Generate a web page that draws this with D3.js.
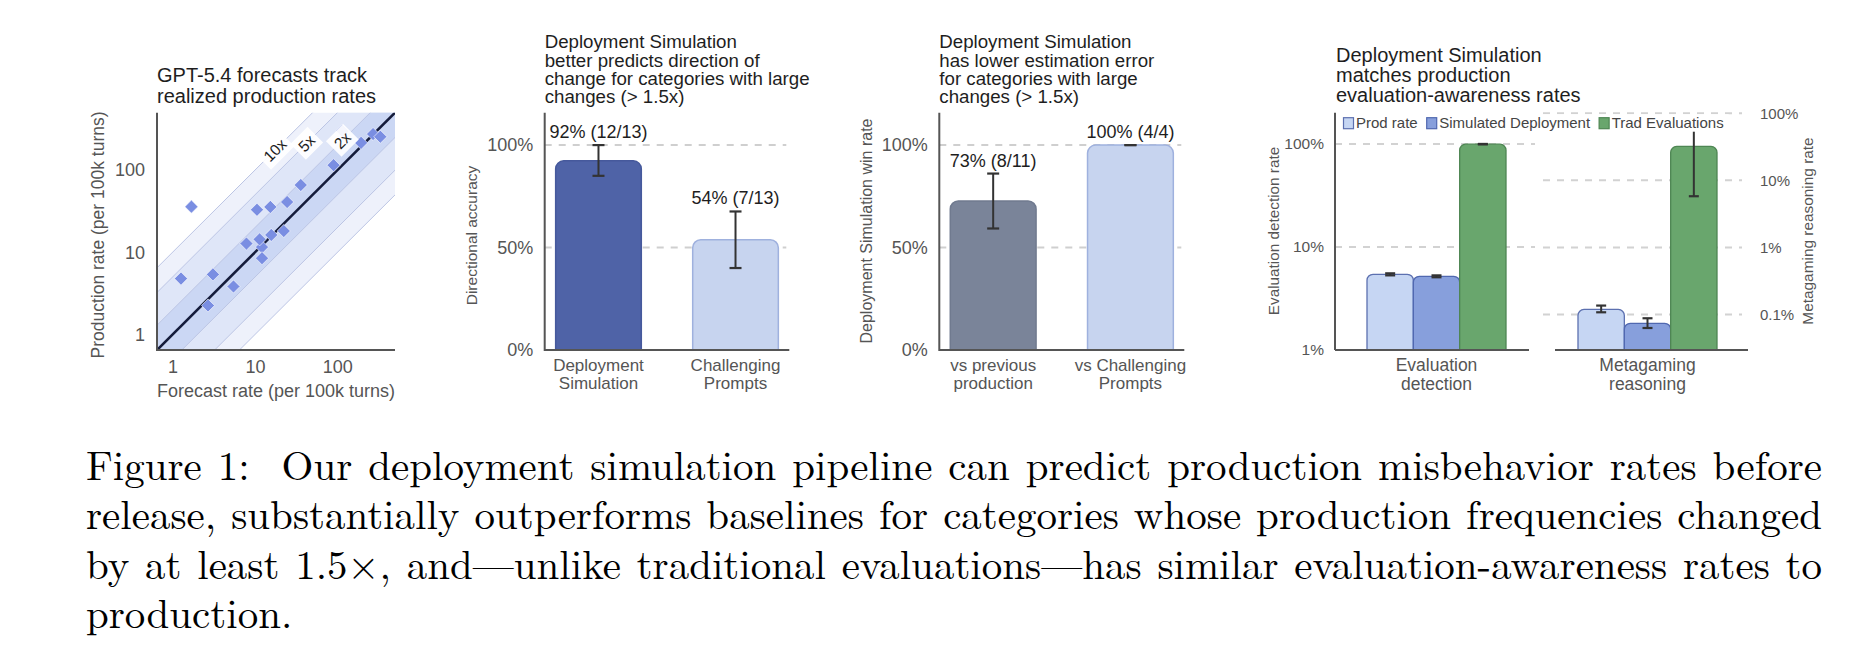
<!DOCTYPE html>
<html>
<head>
<meta charset="utf-8">
<script src="https://cdn.jsdelivr.net/npm/d3@7"></script>
<style>
  body { margin: 0; background: #fff; }
  svg { display: block; font-family: "Liberation Sans", Arial, Helvetica, sans-serif; }
</style>
</head>
<body>
<script>
// ---- values ----

// panel 1: forecast vs realized production rate (per 100k turns)
var forecastRate   = [1.7, 1.27, 3.1, 2.7, 5.5, 7.9, 10.6, 12.2, 11.4, 12.2, 15.4, 15.8, 22.4, 24.6, 36, 90, 115, 194, 271, 332];
var productionRate = [36, 4.8, 5.4, 2.26, 3.85, 12.8, 33, 11.6, 14.4, 8.5, 35.7, 16.3, 18.2, 41, 66, 115, 300, 215, 275, 255];
var scatterTicks = [1, 10, 100];
var bandFactors = [10, 5, 2];
var bandNames = ["10x", "5x", "2x"];
var bandLabelAt = [17.5, 42.5, 115]; // forecast value where the band label sits

// panel 2: directional accuracy
var dirCats = [["Deployment", "Simulation"], ["Challenging", "Prompts"]];
var dirValues = [92.3, 53.8];
var dirLo = [85, 40];
var dirHi = [100, 67.6];
var dirLabels = ["92% (12/13)", "54% (7/13)"];

// panel 3: win rate
var winCats = [["vs previous", "production"], ["vs Challenging", "Prompts"]];
var winValues = [72.7, 100];
var winLo = [59.3, 100];
var winHi = [86.1, 100];
var winLabels = ["73% (8/11)", "100% (4/4)"];

var pctTicks = [0, 50, 100];

// panel 4: evaluation awareness (percent)
var awareSeries = ["Prod rate", "Simulated Deployment", "Trad Evaluations"];
var awareGroups = [["Evaluation", "detection"], ["Metagaming", "reasoning"]];
var evalDetect = [5.43, 5.19, 99.5];
var evalLo = [5.3, 5.08, 99];
var evalHi = [5.55, 5.3, 100];
var metaReason = [0.119, 0.074, 32];
var metaLo = [0.108, 0.063, 5.8];
var metaHi = [0.136, 0.088, 80];
var leftTicks = [1, 10, 100];
var rightTicks = [0.1, 1, 10, 100];

var caption = [
  "Figure 1:  Our deployment simulation pipeline can predict production misbehavior rates before",
  "release, substantially outperforms baselines for categories whose production frequencies changed",
  "by at least 1.5\u00d7, and\u2014unlike traditional evaluations\u2014has similar evaluation-awareness rates to",
  "production."
];

// ---- drawing ----
var W = 1874, H = 666;
var TOP = 112.7, BOTTOM = 350;
var AXIS = "#555", TICK = "#555", INK = "#1e1e1e";

var svg = d3.select("body").append("svg").attr("width", W).attr("height", H);

function title(x, baselines, lines, size) {
  svg.append("text").attr("x", x).attr("font-size", size).attr("fill", INK)
    .selectAll("tspan").data(lines).join("tspan")
    .attr("x", x).attr("y", function (d, i) { return baselines[i]; })
    .text(function (d) { return d; });
}

function yLabel(x, y, txt, size) {
  svg.append("text")
    .attr("transform", "translate(" + x + "," + y + ") rotate(-90)")
    .attr("text-anchor", "middle").attr("dy", "0.35em")
    .attr("font-size", size).attr("fill", TICK).text(txt);
}

function twoLine(x, lines, size, b1, b2) {
  svg.append("text").attr("text-anchor", "middle").attr("font-size", size).attr("fill", TICK)
    .selectAll("tspan").data(lines).join("tspan")
    .attr("x", x).attr("y", function (d, i) { return i ? b2 : b1; })
    .text(function (d) { return d; });
}

function topRounded(x, y, w, h, r) {
  r = Math.max(0, Math.min(r, h, w / 2));
  return "M" + x + "," + (y + h) + "V" + (y + r) +
    "A" + r + "," + r + " 0 0 1 " + (x + r) + "," + y +
    "H" + (x + w - r) +
    "A" + r + "," + r + " 0 0 1 " + (x + w) + "," + (y + r) +
    "V" + (y + h) + "Z";
}

function styleAxis(g, size) {
  g.attr("font-family", null).attr("font-size", null);
  g.select(".domain").remove();
  g.selectAll("text").attr("font-size", size).attr("fill", TICK);
}

function errorBars(g, xs, lo, hi, y, half) {
  xs.forEach(function (cx, i) {
    g.append("line").attr("x1", cx).attr("x2", cx).attr("y1", y(lo[i])).attr("y2", y(hi[i]))
      .attr("stroke", "#333").attr("stroke-width", 2);
    [lo[i], hi[i]].forEach(function (v) {
      g.append("line").attr("x1", cx - half).attr("x2", cx + half).attr("y1", y(v)).attr("y2", y(v))
        .attr("stroke", "#333").attr("stroke-width", 2.2);
    });
  });
}

// ===== panel 1: scatter =====
(function () {
  var left = 157, right = 395;
  var x = d3.scaleLog().domain([0.65, 500]).range([left, right]);
  var y = d3.scaleLog().domain([0.65, 500]).range([BOTTOM, TOP]);
  var g = svg.append("g");

  g.append("clipPath").attr("id", "clip1").append("rect")
    .attr("x", left).attr("y", TOP).attr("width", right - left).attr("height", BOTTOM - TOP);
  var plot = g.append("g").attr("clip-path", "url(#clip1)");

  var line = d3.line().x(function (d) { return x(d[0]); }).y(function (d) { return y(d[1]); });
  var lo = 0.01, hi = 1e5;
  var bandFill = ["#eef1fb", "#dfe6f8", "#cbd7f4"];

  plot.selectAll(".band").data(bandFactors).join("path")
    .attr("d", function (k) { return line([[lo, lo * k], [hi, hi * k], [hi, hi / k], [lo, lo / k]]) + "Z"; })
    .attr("fill", function (k, i) { return bandFill[i]; });

  bandFactors.forEach(function (k) {
    [k, 1 / k].forEach(function (f) {
      plot.append("path").attr("d", line([[lo, lo * f], [hi, hi * f]]))
        .attr("fill", "none").attr("stroke", "#bcc5e4").attr("stroke-width", 1);
    });
  });

  plot.append("path").attr("d", line([[lo, lo], [hi, hi]]))
    .attr("fill", "none").attr("stroke", "#151c3b").attr("stroke-width", 2.6);

  var pts = forecastRate.map(function (f, i) { return [f, productionRate[i]]; });
  plot.selectAll(".pt").data(pts).join("path")
    .attr("d", d3.symbol().type(d3.symbolSquare).size(86))
    .attr("transform", function (d) { return "translate(" + x(d[0]) + "," + y(d[1]) + ") rotate(45)"; })
    .attr("fill", "#7a8ee2").attr("stroke", "#fff").attr("stroke-width", 0.8).attr("stroke-opacity", 0.7);

  // band labels sit on white boxes along the upper band edges
  bandFactors.forEach(function (k, i) {
    var v = bandLabelAt[i];
    var lg = plot.append("g")
      .attr("transform", "translate(" + x(v) + "," + y(v * k) + ") rotate(-45)");
    var t = lg.append("text").attr("text-anchor", "middle").attr("dy", "0.35em")
      .attr("font-size", 15.5).attr("fill", INK).text(bandNames[i]);
    var w = t.node().getComputedTextLength() + 8;
    lg.insert("rect", "text").attr("x", -w / 2).attr("y", -11).attr("width", w).attr("height", 22)
      .attr("fill", "#fff").attr("fill-opacity", 0.92);
  });

  var ya = g.append("g").attr("transform", "translate(" + left + ",0)")
    .call(d3.axisLeft(y).tickValues(scatterTicks).tickFormat(d3.format("d")).tickSize(0).tickPadding(12));
  styleAxis(ya, 18);
  var xa = g.append("g").attr("transform", "translate(0," + BOTTOM + ")")
    .call(d3.axisBottom(x).tickValues(scatterTicks).tickFormat(d3.format("d")).tickSize(0).tickPadding(10));
  styleAxis(xa, 18);

  g.append("path").attr("d", "M" + left + "," + TOP + "V" + BOTTOM + "H" + right)
    .attr("fill", "none").attr("stroke", AXIS).attr("stroke-width", 2);

  title(left, [81.7, 102.7], ["GPT-5.4 forecasts track", "realized production rates"], 20);
  yLabel(98, 235, "Production rate (per 100k turns)", 17.5);
  svg.append("text").attr("x", 276).attr("y", 396.5).attr("text-anchor", "middle")
    .attr("font-size", 18).attr("fill", TICK).text("Forecast rate (per 100k turns)");
})();

// ===== panels 2 and 3: bars with error bars =====
function barPanel(cfg) {
  var g = svg.append("g");
  var y = d3.scaleLinear().domain([0, 115.8]).range([BOTTOM, TOP]);
  var x = d3.scaleBand().domain(d3.range(cfg.values.length))
    .range([cfg.left, cfg.right]).paddingInner(0.375).paddingOuter(0.08);

  g.selectAll(".grid").data([50, 100]).join("line")
    .attr("x1", cfg.left).attr("x2", cfg.right - 3)
    .attr("y1", function (d) { return y(d); }).attr("y2", function (d) { return y(d); })
    .attr("stroke", "#cfcfcf").attr("stroke-width", 2).attr("stroke-dasharray", "7,7");

  g.selectAll(".bar").data(cfg.values).join("path")
    .attr("d", function (d, i) { return topRounded(x(i), y(d), x.bandwidth(), y(0) - y(d), 8); })
    .attr("fill", function (d, i) { return cfg.fills[i]; })
    .attr("stroke", function (d, i) { return cfg.strokes[i]; }).attr("stroke-width", 1.5);

  var cx = cfg.values.map(function (d, i) { return x(i) + x.bandwidth() / 2; });
  errorBars(g, cx, cfg.lo, cfg.hi, y, 6);

  g.selectAll(".val").data(cfg.labels).join("text")
    .attr("x", function (d, i) { return cx[i]; })
    .attr("y", function (d, i) { return y(cfg.hi[i]) - 7; })
    .attr("text-anchor", "middle").attr("font-size", 18).attr("fill", INK)
    .text(function (d) { return d; });

  var ya = g.append("g").attr("transform", "translate(" + cfg.left + ",0)")
    .call(d3.axisLeft(y).tickValues(pctTicks).tickFormat(function (d) { return d + "%"; }).tickSize(0).tickPadding(11.5));
  styleAxis(ya, 18);

  g.append("path").attr("d", "M" + cfg.left + "," + TOP + "V" + BOTTOM + "H" + cfg.right)
    .attr("fill", "none").attr("stroke", AXIS).attr("stroke-width", 2);

  cfg.cats.forEach(function (c, i) { twoLine(cx[i], c, 17, 370.7, 388.5); });
  title(cfg.left, [48.3, 66.7, 85, 102.7], cfg.title, 18.7);
  yLabel(cfg.labelX, cfg.labelY, cfg.ylabel, cfg.labelSize);
}

barPanel({
  left: 544.7, right: 789.3,
  values: dirValues, lo: dirLo, hi: dirHi, labels: dirLabels, cats: dirCats,
  fills: ["#4f63a7", "#c7d4ef"], strokes: ["#46599c", "#9fb1de"],
  title: ["Deployment Simulation", "better predicts direction of", "change for categories with large", "changes (> 1.5x)"],
  ylabel: "Directional accuracy", labelX: 471.7, labelY: 235.5, labelSize: 15.5
});

barPanel({
  left: 939.3, right: 1184.3,
  values: winValues, lo: winLo, hi: winHi, labels: winLabels, cats: winCats,
  fills: ["#7a8499", "#c7d4ef"], strokes: ["#707a8f", "#9fb1de"],
  title: ["Deployment Simulation", "has lower estimation error", "for categories with large", "changes (> 1.5x)"],
  ylabel: "Deployment Simulation win rate", labelX: 866.7, labelY: 231, labelSize: 16
});

// ===== panel 4: evaluation awareness, two log axes =====
(function () {
  var g = svg.append("g");
  var fills = ["#c6d6f3", "#879fdc", "#69a66d"];
  var strokes = ["#5c70b0", "#5068b0", "#4e8653"];

  var yl = d3.scaleLog().domain([1, 201]).range([BOTTOM, TOP]);
  var yr = d3.scaleLog().domain([0.0296, 102]).range([BOTTOM, TOP]);

  var subs = [
    { axis: [1335, 1529], group: [1367, 1506], grid: [1335, 1535], y: yl, ticks: [10, 100],
      values: evalDetect, lo: evalLo, hi: evalHi, cat: awareGroups[0] },
    { axis: [1555, 1748], group: [1578, 1717], grid: [1543, 1742], y: yr, ticks: rightTicks,
      values: metaReason, lo: metaLo, hi: metaHi, cat: awareGroups[1] }
  ];

  subs.forEach(function (s) {
    var x = d3.scaleBand().domain(awareSeries).range(s.group).padding(0);
    g.append("g").selectAll("line").data(s.ticks).join("line")
      .attr("x1", s.grid[0]).attr("x2", s.grid[1])
      .attr("y1", function (d) { return s.y(d); }).attr("y2", function (d) { return s.y(d); })
      .attr("stroke", "#d2d2d2").attr("stroke-width", 2).attr("stroke-dasharray", "7,7");

    g.append("g").selectAll("path").data(s.values).join("path")
      .attr("d", function (d, i) {
        return topRounded(x(awareSeries[i]), s.y(d), x.bandwidth(), BOTTOM - s.y(d), 6);
      })
      .attr("fill", function (d, i) { return fills[i]; })
      .attr("stroke", function (d, i) { return strokes[i]; }).attr("stroke-width", 1.3);

    var cx = awareSeries.map(function (n) { return x(n) + x.bandwidth() / 2; });
    errorBars(g, cx, s.lo, s.hi, s.y, 5);

    g.append("line").attr("x1", s.axis[0]).attr("x2", s.axis[1]).attr("y1", BOTTOM).attr("y2", BOTTOM)
      .attr("stroke", AXIS).attr("stroke-width", 2);
    twoLine((s.group[0] + s.group[1]) / 2, s.cat, 17.5, 370.7, 390);
  });

  var fmt = function (d) { return d + "%"; };
  var la = g.append("g").attr("transform", "translate(1335,0)")
    .call(d3.axisLeft(yl).tickValues(leftTicks).tickFormat(fmt).tickSize(0).tickPadding(11));
  styleAxis(la, 15.5);
  var ra = g.append("g").attr("transform", "translate(1748,0)")
    .call(d3.axisRight(yr).tickValues(rightTicks).tickFormat(fmt).tickSize(0).tickPadding(12));
  styleAxis(ra, 15);

  g.append("line").attr("x1", 1335).attr("x2", 1335).attr("y1", TOP).attr("y2", BOTTOM)
    .attr("stroke", AXIS).attr("stroke-width", 2);

  // legend on a white box (it hides the top of the long error bar)
  var leg = g.append("g");
  var box = leg.append("rect").attr("y", 114.2).attr("height", 17.5).attr("fill", "#fff");
  var lx = 1343.5;
  awareSeries.forEach(function (n, i) {
    leg.append("rect").attr("x", lx).attr("y", 117.7).attr("width", 10).attr("height", 11)
      .attr("fill", fills[i]).attr("stroke", strokes[i]).attr("stroke-width", 1.2);
    var t = leg.append("text").attr("x", lx + 12.5).attr("y", 127.8)
      .attr("font-size", 15).attr("fill", "#444").text(n);
    lx += 12.5 + t.node().getComputedTextLength() + 9;
  });
  box.attr("x", 1340).attr("width", lx - 1340 - 4);

  title(1336, [61.7, 81.7, 101.7], ["Deployment Simulation", "matches production", "evaluation-awareness rates"], 20);
  yLabel(1274, 231, "Evaluation detection rate", 15.3);
  yLabel(1808, 231, "Metagaming reasoning rate", 15.4);
})();

// ===== caption, justified (one text, one tspan per line) =====
(function () {
  var left = 86, right = 1822;
  var base = [479.5, 529, 578.5, 628];
  var t = svg.append("text")
    .attr("transform", "translate(" + left + ",0)")
    .attr("font-family", "'Latin Modern Roman', 'CMU Serif', 'Computer Modern', 'Liberation Serif', serif")
    .attr("font-size", 41).attr("fill", "#000")
    .style("white-space", "pre");
  caption.forEach(function (line, i) {
    var s = t.append("tspan").attr("x", 0).attr("y", base[i]).text(line);
    if (i < caption.length - 1) {
      var natural = s.node().getComputedTextLength();
      var spaces = line.split(" ").length - 1;
      s.attr("word-spacing", ((right - left) - natural) / spaces);
    }
  });
})();
</script>
</body>
</html>
